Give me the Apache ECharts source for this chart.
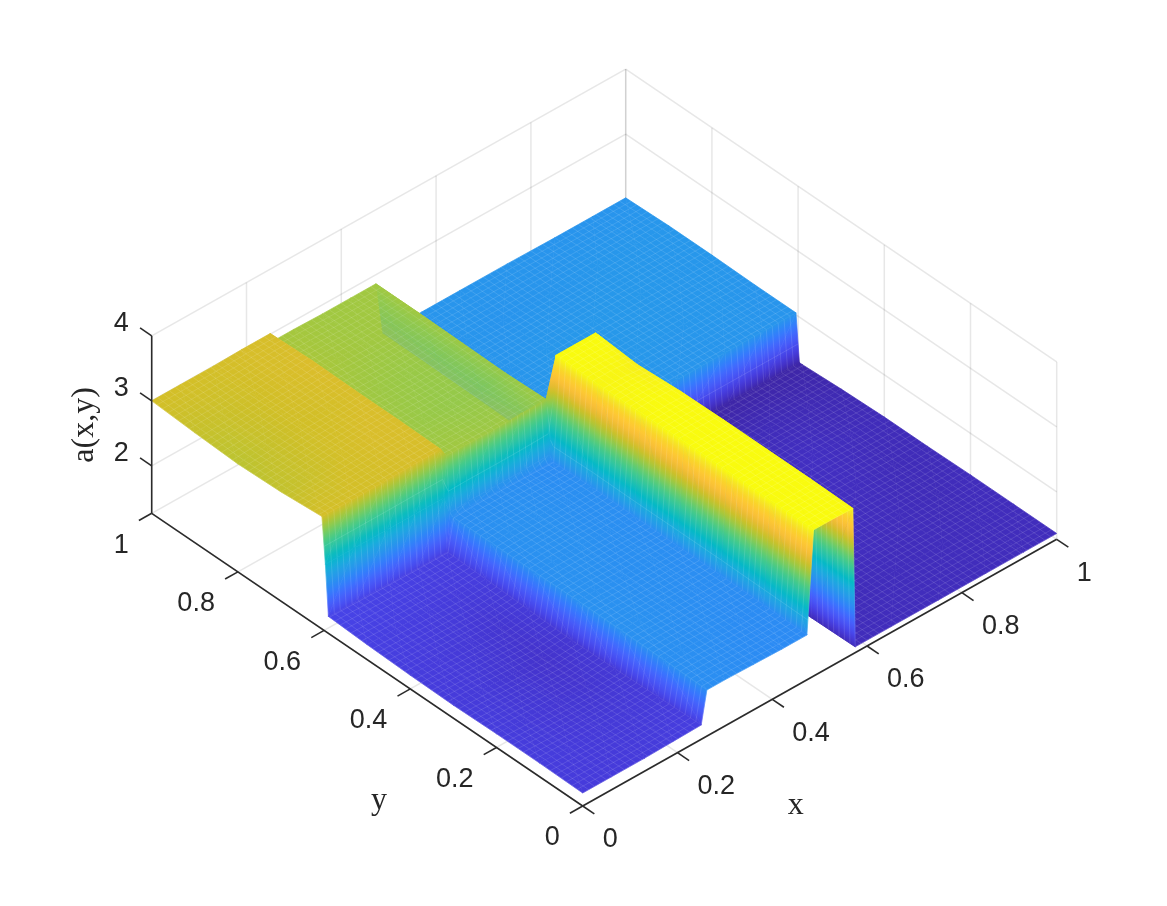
<!DOCTYPE html>
<html><head><meta charset="utf-8">
<style>html,body{margin:0;padding:0;background:#fff}#c{width:1167px;height:906px}</style>
<script src="https://cdn.jsdelivr.net/npm/echarts@6/dist/echarts.min.js"></script>
</head><body><div id="c"></div>
<script>
// ---------- data ----------
const xs = [0,.06,.13,.19,.25,.262,.30,.36,.42,.473,.487,.53,.57,.575,.65,.75,.85,.93,1];
const ys = [0,.1,.2,.3,.4,.5,.59,.597,.605,.7,.8,.9,1];
const z00 = [1.47,1.47,1.47,1.48,1.49,1.98,1.98,1.97,1.96,1.96,3.52,3.52,3.51,1.36,1.36,1.36,1.36,1.36,1.36];
const z01 = [1.48,1.47,1.46,1.46,1.47,1.99,1.99,1.98,1.97,1.97,3.52,3.52,3.52,1.35,1.35,1.36,1.36,1.36,1.36];
const z02 = [1.48,1.46,1.44,1.43,1.45,2.00,2.00,1.99,1.98,1.98,3.52,3.52,3.52,1.34,1.35,1.37,1.36,1.35,1.36];
const z03 = [1.47,1.46,1.43,1.41,1.44,2.00,2.00,1.99,1.99,1.98,3.52,3.52,3.52,1.34,1.36,1.38,1.37,1.35,1.35];
const z04 = [1.48,1.47,1.45,1.43,1.46,1.99,2.00,2.00,1.99,1.98,3.51,3.52,3.51,1.33,1.35,1.37,1.38,1.36,1.35];
const z05 = [1.50,1.49,1.48,1.47,1.48,1.99,2.00,2.00,1.99,1.99,3.50,3.50,3.47,1.32,1.34,1.35,1.35,1.34,1.33];
const z06 = [1.53,1.52,1.51,1.50,1.50,1.98,1.99,1.99,1.98,1.97,3.52,3.52,3.52,1.31,1.31,1.31,1.30,1.30,1.30];
const z07 = [2.30,2.30,2.30,2.30,2.30,2.02,2.03,2.03,2.03,2.05,3.52,3.52,3.52,1.30,1.30,1.30,1.30,1.30,1.30];
const z08 = [3.00,3.00,3.00,3.01,3.01,2.86,2.86,2.85,2.86,2.86,2.03,2.03,2.03,2.03,2.03,2.03,2.03,2.03,2.03];
const z09 = [2.95,2.97,3.00,3.02,3.02,2.85,2.84,2.83,2.83,2.84,2.02,2.03,2.03,2.04,2.04,2.05,2.04,2.04,2.03];
const z10 = [2.93,2.96,2.99,3.00,3.02,2.86,2.85,2.84,2.84,2.85,2.03,2.02,2.03,2.03,2.04,2.05,2.05,2.04,2.04];
const z11 = [2.96,2.97,2.99,3.01,3.03,2.88,2.87,2.86,2.86,2.86,2.04,2.03,2.02,2.03,2.02,2.03,2.04,2.04,2.04];
const z12 = [3.00,3.00,3.00,3.01,3.01,2.87,2.87,2.86,2.86,2.86,2.04,2.03,2.03,2.03,2.03,2.03,2.02,2.02,2.02];
const zRows = [z00,z01,z02,z03,z04,z05,z06,z07,z08,z09,z10,z11,z12];
const xTicks = [0,.2,.4,.6,.8,1];
const yTicks = [0,.2,.4,.6,.8,1];
const zTicks = [2,3,4];
const xTickLabels = ['0','0.2','0.4','0.6','0.8','1'];
const yTickLabels = ['0','0.2','0.4','0.6','0.8','1'];
const zTickLabels = ['2','3','4'];
const xTitle = 'x', yTitle = 'y', zTitle = 'a(x,y)';
const zMin = 1.27, zMax = 4, cMin = 1.3, cMax = 3.52;
const parula = [[.2422,.1504,.6603],[.2647,.1978,.7952],[.2783,.2559,.8991],[.2810,.3228,.9579],[.2699,.3892,.9906],[.2206,.4603,.9973],[.1786,.5289,.9682],[.1540,.5902,.9218],[.1248,.6459,.8883],[.0689,.6948,.8394],[.0067,.7312,.7660],[.1408,.7584,.6842],[.2161,.7843,.5923],[.3406,.8008,.4789],[.5044,.7993,.3480],[.6720,.7793,.2227],[.8203,.7498,.1535],[.9393,.7288,.2100],[.9970,.7659,.2199],[.9892,.8086,.1713],[.9610,.8890,.1537],[.9763,.9831,.0538]];

// ---------- view (orthographic projection of the box) ----------
const O = [582.7,806], Ux = [474,-266.7], Uy = [-431,-292.7], Uz = 65;
const project = (x,y,z) => [O[0]+x*Ux[0]+y*Uy[0], O[1]+x*Ux[1]+y*Uy[1]-(z-zMin)*Uz];
const cAt = t => {
  t = Math.max(0,Math.min(1,t))*(parula.length-1);
  const i = Math.min(parula.length-2,Math.floor(t)), f = t-i, a = parula[i], b = parula[i+1];
  return 'rgb('+[0,1,2].map(k=>Math.round(255*(a[k]+(b[k]-a[k])*f))).join(',')+')';
};
const tOf = z => (z-cMin)/(cMax-cMin);
const meshStep = 1/80, meshCol = 'rgba(255,255,255,0.2)';

function triFill(p0,p1,p2,t0,t1,t2){
  const tn = Math.min(t0,t1,t2), tx = Math.max(t0,t1,t2);
  const ax=p1[0]-p0[0], ay=p1[1]-p0[1], bx=p2[0]-p0[0], by=p2[1]-p0[1];
  const det = ax*by-ay*bx, d1=t1-t0, d2=t2-t0;
  if (tx-tn<0.004 || Math.abs(det)<0.01) return cAt((t0+t1+t2)/3);
  const gx=(d1*by-d2*ay)/det, gy=(d2*ax-d1*bx)/det, g2=gx*gx+gy*gy;
  const S = tn===t0?p0:(tn===t1?p1:p2), k=(tx-tn)/g2;
  const n = Math.max(2,Math.ceil((tx-tn)*24)+1), stops=[];
  for(let i=0;i<n;i++){const f=i/(n-1);stops.push({offset:f,color:cAt(tn+(tx-tn)*f)});}
  return new echarts.graphic.LinearGradient(S[0],S[1],S[0]+gx*k,S[1]+gy*k,stops,true);
}

// cells back to front (viewer at low x, low y). Third value 1 = the hidden step
// under the green plateau, seen faintly through it.
const jStep = ys.indexOf(.605), iStep = xs.indexOf(.473);
const cells = [];
for(let i=xs.length-2;i>=iStep;i--) for(let j=ys.length-2;j>=jStep;j--) cells.push([i,j,0]);
for(let i=iStep-1;i>=0;i--) for(let j=ys.length-2;j>=jStep;j--) cells.push([i,j,0]);
for(let j=ys.length-2;j>=jStep;j--) cells.push([iStep,j,1]);
for(let i=xs.length-2;i>=0;i--) for(let j=jStep-1;j>=0;j--) cells.push([i,j,0]);

function renderCell(params,api){
  const i=api.value(0), j=api.value(1), see=api.value(2)===1;
  const x0=xs[i],x1=xs[i+1],y0=ys[j],y1=ys[j+1];
  const z00_=zRows[j][i],z10_=zRows[j][i+1],z01_=zRows[j+1][i],z11_=zRows[j+1][i+1];
  const P=(x,y,z)=>api.coord(project(x,y,z));
  const A=P(x0,y0,z00_),B=P(x1,y0,z10_),C=P(x1,y1,z11_),D=P(x0,y1,z01_);
  const mk=(a,b,c,ta,tb,tc)=>{const f=triFill(a,b,c,ta,tb,tc);
    return {type:'polygon',shape:{points:[a,b,c]},silent:true,
      style: see?{fill:f,opacity:.16}:{fill:f,stroke:f,lineWidth:.7}};};
  const t00=tOf(z00_),t10=tOf(z10_),t01=tOf(z01_),t11=tOf(z11_);
  // the corner cell where ridge, plateau and step meet folds along its other diagonal
  const ch = (i===iStep && j===jStep-1)
    ? [mk(B,C,D,t10,t11,t01),mk(A,B,D,t00,t10,t01)]
    : [mk(A,B,C,t00,t10,t11),mk(A,C,D,t00,t11,t01)];
  if(see) return {type:'group',children:ch};
  const zb=(x,y)=>{const u=(x-x0)/(x1-x0),v=(y-y0)/(y1-y0);
    return z00_*(1-u)*(1-v)+z10_*u*(1-v)+z01_*(1-u)*v+z11_*u*v;};
  const seg=(a,b)=>ch.push({type:'line',silent:true,shape:{x1:a[0],y1:a[1],x2:b[0],y2:b[1]},style:{stroke:meshCol,lineWidth:.6}});
  for(let k=Math.ceil(x0/meshStep);k*meshStep<x1;k++){const m=k*meshStep;seg(P(m,y0,zb(m,y0)),P(m,y1,zb(m,y1)));}
  for(let k=Math.ceil(y0/meshStep);k*meshStep<y1;k++){const m=k*meshStep;seg(P(x0,m,zb(x0,m)),P(x1,m,zb(x1,m)));}
  return {type:'group',children:ch};
}

const gridCol='rgba(38,38,38,0.11)', axisCol='#2b2b2b';
function lineEl(api,a,b,col,w){const p=api.coord(a),q=api.coord(b);
  return {type:'line',silent:true,shape:{x1:p[0],y1:p[1],x2:q[0],y2:q[1]},style:{stroke:col,lineWidth:w}};}

function renderBack(params,api){
  const ch=[],g=(a,b)=>ch.push(lineEl(api,a,b,gridCol,1.5));
  xTicks.forEach(x=>{g(project(x,0,zMin),project(x,1,zMin));g(project(x,1,zMin),project(x,1,zMax));});
  yTicks.forEach(y=>{g(project(0,y,zMin),project(1,y,zMin));g(project(1,y,zMin),project(1,y,zMax));});
  zTicks.forEach(z=>{g(project(0,1,z),project(1,1,z));g(project(1,1,z),project(1,0,z));});
  return {type:'group',children:ch};
}
function txt(api,pos,dx,dy,s,align,font,rot){
  const p=api.coord(pos);
  return {type:'text',silent:true,x:p[0]+dx,y:p[1]+dy,rotation:rot||0,
    style:{text:s,textAlign:align,textVerticalAlign:'middle',font:font,fill:'#262626'}};
}
function renderFront(params,api){
  const ch=[],a=(p,q,w)=>ch.push(lineEl(api,p,q,axisCol,w||1.6));
  const tk=.027, f='27px "Liberation Sans"', sf='32px "Liberation Serif"';
  a(project(0,0,zMin),project(1,0,zMin));
  a(project(0,0,zMin),project(0,1,zMin));
  a(project(0,1,zMin),project(0,1,zMax));
  xTicks.forEach((x,i)=>{a(project(x,0,zMin),project(x,-tk,zMin));
    ch.push(txt(api,project(x,0,zMin),20,34,xTickLabels[i],'left',f));});
  yTicks.forEach((y,i)=>{a(project(0,y,zMin),project(-tk,y,zMin));
    ch.push(txt(api,project(0,y,zMin),-23,32,yTickLabels[i],'right',f));});
  zTicks.forEach((z,i)=>{a(project(0,1,z),project(0,1+tk,z));
    ch.push(txt(api,project(0,1,z),-23,-12,zTickLabels[i],'right',f));});
  ch.push(txt(api,project(.246,-.224,zMin),0,0,xTitle,'center',sf));
  ch.push(txt(api,project(-.225,.225,zMin),0,0,yTitle,'center',sf));
  ch.push(txt(api,project(0,1,2.63),-67,0,zTitle,'center',sf,Math.PI/2));
  return {type:'group',children:ch};
}

const chart=echarts.init(document.getElementById('c'),null,{renderer:'canvas'});
chart.setOption({
  animation:false,backgroundColor:'#fff',
  grid:{left:0,right:0,top:0,bottom:0},
  xAxis:{type:'value',min:0,max:1167,show:false},
  yAxis:{type:'value',min:0,max:906,inverse:true,show:false},
  series:[
    {type:'custom',z:1,clip:false,silent:true,progressive:0,data:[[0,0]],encode:{x:0,y:1},renderItem:renderBack},
    {type:'custom',z:2,clip:false,silent:true,progressive:0,data:cells,encode:{x:0,y:1},renderItem:renderCell},
    {type:'custom',z:3,clip:false,silent:true,progressive:0,data:[[0,0]],encode:{x:0,y:1},renderItem:renderFront}
  ]
});
</script></body></html>
